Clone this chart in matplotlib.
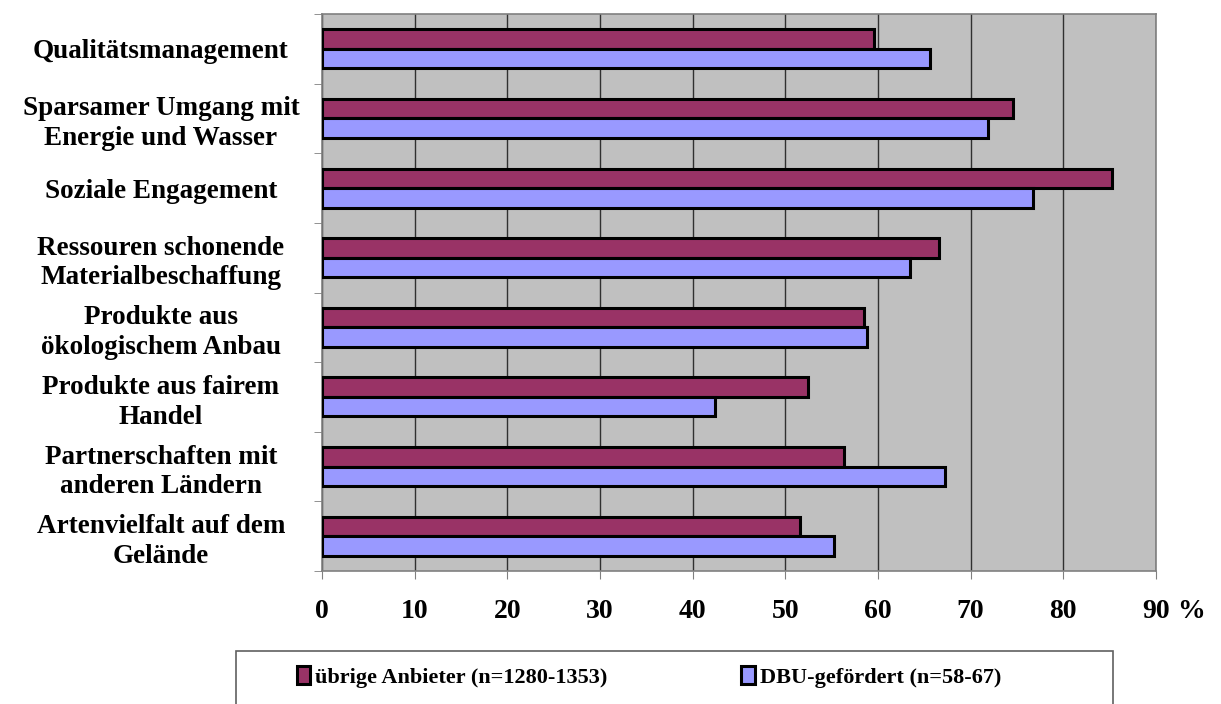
import matplotlib.pyplot as plt
import numpy as np
from matplotlib.patches import Rectangle

# categories from top to bottom
categories = [
    "Qualitätsmanagement",
    "Sparsamer Umgang mit\nEnergie und Wasser",
    "Soziale Engagement",
    "Ressouren schonende\nMaterialbeschaffung",
    "Produkte aus\nökologischem Anbau",
    "Produkte aus fairem\nHandel",
    "Partnerschaften mit\nanderen Ländern",
    "Artenvielfalt auf dem\nGelände",
]
uebrige = [59.6, 74.6, 85.2, 66.6, 58.5, 52.4, 56.3, 51.6]
dbu = [65.6, 71.9, 76.7, 63.5, 58.8, 42.4, 67.2, 55.2]
x_ticks = [0, 10, 20, 30, 40, 50, 60, 70, 80, 90]

plt.rcParams["font.family"] = ["Liberation Serif", "DejaVu Serif"]
plt.rcParams["font.weight"] = "bold"

fig = plt.figure(figsize=(12.21, 7.04), dpi=100)
ax = fig.add_axes([322 / 1221, 1 - 571 / 704, (1156 - 322) / 1221, (571 - 14) / 704])
ax.set_facecolor("#C0C0C0")

y = np.arange(len(categories))
h = 0.28
ax.barh(y - h / 2, uebrige, height=h, color="#993366", edgecolor="black",
        linewidth=2.2, label="übrige Anbieter (n=1280-1353)", zorder=3)
ax.barh(y + h / 2, dbu, height=h, color="#9999FF", edgecolor="black",
        linewidth=2.2, label="DBU-gefördert (n=58-67)", zorder=3)

ax.set_xlim(0, 90)
ax.set_ylim(len(categories) - 0.5, -0.5)

# vertical gridlines
ax.set_xticks(x_ticks)
ax.set_xticklabels([str(v) for v in x_ticks], fontsize=20, fontweight="bold")
ax.xaxis.grid(True, color="#303030", linewidth=1, zorder=1)
ax.tick_params(axis="x", length=6, color="#808080", pad=14)
ax.annotate("%", xy=(90, 0), xycoords=("data", "axes fraction"),
            xytext=(15, -29), textcoords="offset points",
            fontsize=20, fontweight="bold", ha="left", va="center")

# category labels, ticks between groups
ax.set_yticks(y)
ax.set_yticklabels(categories, fontsize=19.5, fontweight="bold", ha="center",
                   linespacing=1.25)
ax.tick_params(axis="y", length=0, pad=116)
ax.set_yticks(np.arange(-0.5, len(categories)), minor=True)
ax.tick_params(axis="y", which="minor", length=6, color="#808080")

for s in ax.spines.values():
    s.set_color("#808080")
    s.set_linewidth(1.2)

# legend box below the chart
fig.patches.append(Rectangle((236 / 1221, -0.01), (1113 - 236) / 1221, (704 - 651) / 704 + 0.01,
                             transform=fig.transFigure, facecolor="white",
                             edgecolor="#606060", linewidth=1.2))
fig.legend(loc="center", bbox_to_anchor=(649 / 1221, 1 - 677 / 704), ncol=2,
           frameon=False, fontsize=16, handlelength=0.6, handleheight=0.85,
           handletextpad=0.25, columnspacing=6.0)

plt.savefig("out.png", dpi=100)
